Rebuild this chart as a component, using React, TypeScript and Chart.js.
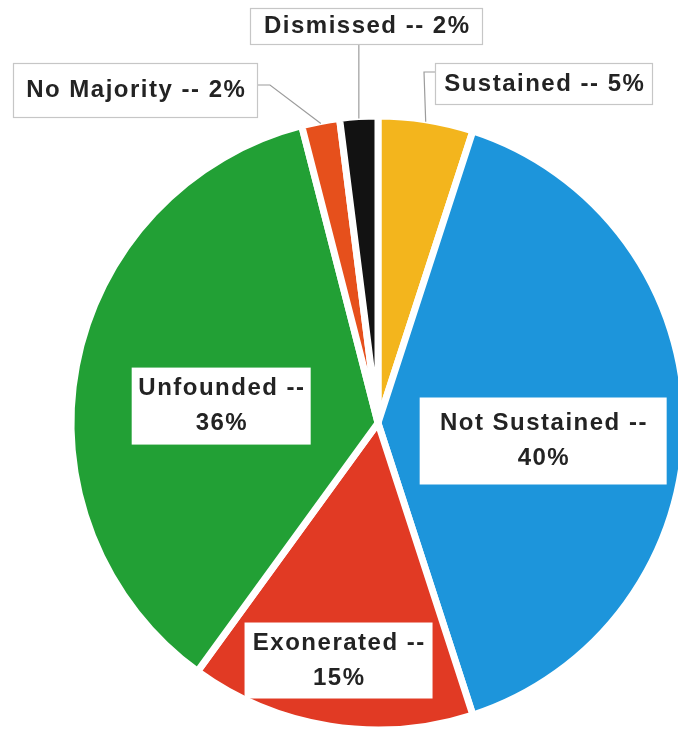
import { useEffect, useRef } from 'react';
import { Chart, registerables } from 'chart.js';

Chart.register(...registerables);

// ---- data ----
const categories = ['Sustained', 'Not Sustained', 'Exonerated', 'Unfounded', 'No Majority', 'Dismissed'];
const percentages = [5, 40, 15, 36, 2, 2];
const sliceColors = ['#F3B51D', '#1D95DB', '#E13A24', '#22A035', '#E6501C', '#121212'];

// ---- label layout (styling / placement only) ----
type Lay =
  | { kind: 'in'; f: number; nudge: [number, number]; size: [number, number] }
  | { kind: 'out'; box: [number, number]; size: [number, number]; elbow: [number, number] | null; side: 'left' | 'right' | 'bottom' };

const labelLayout: Lay[] = [
  { kind: 'out', box: [166, -339], size: [218, 42], elbow: [46, -351], side: 'left' },
  { kind: 'in', f: 0.538, nudge: [0, 18], size: [247, 87] },
  { kind: 'in', f: 0.78, nudge: [-2, 1], size: [188, 76] },
  { kind: 'in', f: 0.52, nudge: [0, 13], size: [179, 77] },
  { kind: 'out', box: [-242.5, -332.5], size: [245, 55], elbow: [-108, -338], side: 'right' },
  { kind: 'out', box: [-11.5, -396.5], size: [233, 37], elbow: null, side: 'bottom' },
];

const FONT = 'bold 24px "Liberation Sans", Arial, sans-serif';

const boxLabels = {
  id: 'boxLabels',
  afterDatasetsDraw(chart: any) {
    const meta = chart.getDatasetMeta(0);
    const ctx: CanvasRenderingContext2D = chart.ctx;
    ctx.save();
    meta.data.forEach((arc: any, i: number) => {
      const lay = labelLayout[i];
      const { x, y, startAngle, endAngle, outerRadius } = arc.getProps(
        ['x', 'y', 'startAngle', 'endAngle', 'outerRadius'],
        true
      );
      const mid = (startAngle + endAngle) / 2;
      let cx: number;
      let cy: number;
      if (lay.kind === 'in') {
        cx = x + Math.cos(mid) * outerRadius * lay.f + lay.nudge[0];
        cy = y + Math.sin(mid) * outerRadius * lay.f + lay.nudge[1];
      } else {
        cx = x + lay.box[0];
        cy = y + lay.box[1];
      }
      const [w, h] = lay.size;
      const left = cx - w / 2;
      const top = cy - h / 2;

      if (lay.kind === 'out') {
        const px = x + Math.cos(mid) * (outerRadius - 2);
        const py = y + Math.sin(mid) * (outerRadius - 2);
        ctx.beginPath();
        ctx.moveTo(px, py);
        if (lay.side === 'bottom' || !lay.elbow) {
          ctx.lineTo(px, top + h);
        } else {
          const ex = x + lay.elbow[0];
          const ey = y + lay.elbow[1];
          ctx.lineTo(ex, ey);
          ctx.lineTo(lay.side === 'left' ? left : left + w, ey);
        }
        ctx.strokeStyle = '#9c9c9c';
        ctx.lineWidth = 1.2;
        ctx.stroke();
      }

      ctx.fillStyle = '#ffffff';
      ctx.fillRect(left, top, w, h);
      if (lay.kind === 'out') {
        ctx.strokeStyle = '#c6c6c6';
        ctx.lineWidth = 1.2;
        ctx.strokeRect(left + 0.5, top + 0.5, w - 1, h - 1);
      }

      const lines =
        lay.kind === 'in'
          ? [`${categories[i]} --`, `${percentages[i]}%`]
          : [`${categories[i]} -- ${percentages[i]}%`];
      ctx.font = FONT;
      (ctx as any).letterSpacing = '1.5px';
      ctx.fillStyle = '#232323';
      ctx.textAlign = 'center';
      ctx.textBaseline = 'middle';
      const lh = 35;
      lines.forEach((t, k) => {
        const ty = cy + (k - (lines.length - 1) / 2) * lh;
        ctx.fillText(t, cx + 0.75, ty);
      });
    });
    ctx.restore();
  },
};

export default function App() {
  const ref = useRef<HTMLCanvasElement | null>(null);

  useEffect(() => {
    if (!ref.current) return;
    const chart = new Chart(ref.current, {
      type: 'pie',
      data: {
        labels: categories,
        datasets: [
          {
            data: percentages,
            backgroundColor: sliceColors,
            borderColor: '#ffffff',
            borderWidth: 7,
            radius: 307,
            clip: false,
          } as any,
        ],
      },
      options: {
        responsive: false,
        animation: false,
        devicePixelRatio: 1,
        events: [],
        layout: { padding: { left: 78, right: 0, top: 109, bottom: 0 } },
        plugins: {
          legend: { display: false },
          tooltip: { enabled: false },
        },
      },
      plugins: [boxLabels],
    });
    return () => chart.destroy();
  }, []);

  return (
    <div style={{ position: 'fixed', left: 0, top: 0, width: 678, height: 737, overflow: 'hidden', background: '#fff' }}>
      <canvas ref={ref} width={678} height={737} style={{ display: 'block' }} />
    </div>
  );
}
